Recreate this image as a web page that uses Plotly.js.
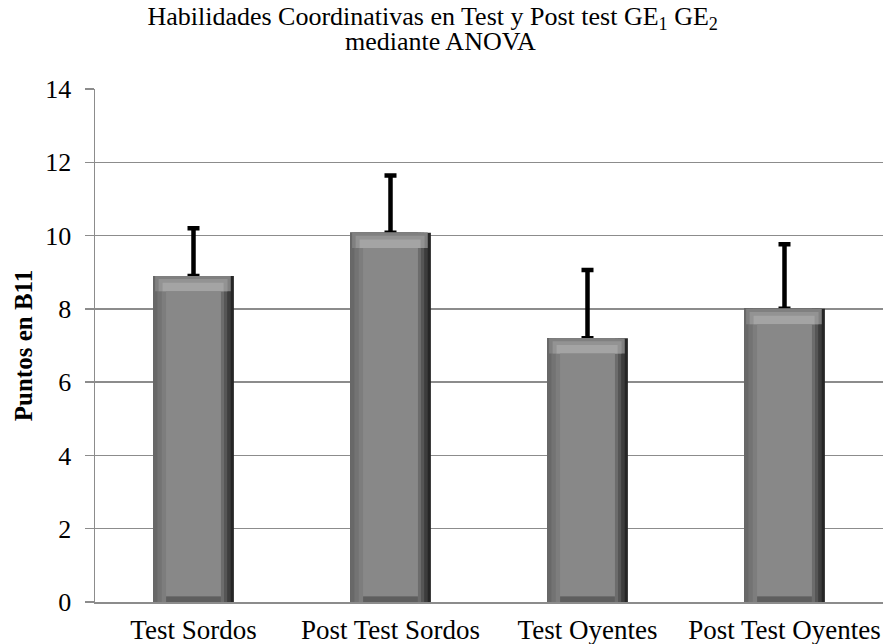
<!DOCTYPE html>
<html>
<head>
<meta charset="utf-8">
<script src="https://cdn.plot.ly/plotly-3.0.1.min.js"></script>
<style>
html,body{margin:0;padding:0;background:#fff;}
#chart{width:883px;height:644px;}
</style>
</head>
<body>
<div id="chart"></div>
<script>
// ---- data ----
const categories = ["Test Sordos", "Post Test Sordos", "Test Oyentes", "Post Test Oyentes"];
const means = [8.9, 10.08, 7.2, 8.0];
const errPlus = [1.3, 1.56, 1.86, 1.76];
const yTicks = [0, 2, 4, 6, 8, 10, 12, 14];

// ---- style constants ----
const BW = 0.41;          // bar width (category units)
const OFF = -BW / 2;
const SX = 0.066;         // side bevel width (x units)
const TY = 0.42;          // top bevel height (y units)
const BY = 0.16;          // bottom bevel height (y units)
const serif = "Liberation Serif, Times New Roman, serif";

function layer(y, base, offset, width, color, extra) {
  return Object.assign({
    type: 'bar', x: categories, y: y, base: base,
    offset: offset, width: width,
    marker: {color: color, line: {width: 0}},
    hoverinfo: 'skip', showlegend: false
  }, extra || {});
}

const zeros = means.map(() => 0);
const topBase = means.map(v => v - TY);
const topH = means.map(() => TY);
const faceH = means.map(v => v - TY - BY);
const faceBase = means.map(() => BY);
const botH = means.map(() => BY);

const traces = [
  // right outer dark strip + error bars
  layer(means, zeros, OFF, BW, '#262626', {
    error_y: {type: 'data', symmetric: false, array: errPlus, arrayminus: zeros,
              color: '#000', thickness: 4.5, width: 6}
  }),
  layer(means, zeros, OFF, BW - 0.016, '#3d3d3d'),
  layer(means, zeros, OFF, BW - 0.034, '#565656'),
  layer(means, zeros, OFF, BW - 0.050, '#6c6c6c'),
  // left bevel
  layer(means, zeros, OFF, BW - SX, '#686868'),
  layer(means, zeros, OFF + 0.022, BW - SX - 0.022, '#737373'),
  layer(means, zeros, OFF + 0.044, BW - SX - 0.044, '#7d7d7d'),
  // bottom bevel
  layer(botH, zeros, OFF + SX, BW - 2 * SX, '#5e5e5e'),
  // top bevel (light gradient)
  layer(topH, topBase, OFF + 0.010, BW - 0.026, '#808080'),
  layer(topH.map(h => h * 0.8), topBase, OFF + 0.028, BW - 0.060, '#939393'),
  layer(topH.map(h => h * 0.55), topBase, OFF + 0.048, BW - 0.100, '#a4a4a4'),
  // face
  layer(faceH, faceBase, OFF + SX, BW - 2 * SX, '#888888')
];

const layout = {
  width: 883, height: 644,
  margin: {l: 95, r: 0, t: 89, b: 42},
  paper_bgcolor: '#ffffff', plot_bgcolor: '#ffffff',
  barmode: 'overlay',
  font: {family: serif, color: '#000'},
  title: {
    text: 'Habilidades Coordinativas en Test y Post test GE<sub>1</sub> GE<sub>2</sub>',
    font: {family: serif, size: 26, color: '#000'},
    x: 0.49, xanchor: 'center', xref: 'container',
    y: 0.99, yanchor: 'top', yref: 'container'
  },
  annotations: [{
    text: 'mediante ANOVA', xref: 'paper', yref: 'paper',
    x: 0.438, y: 1.0, xanchor: 'center', yanchor: 'middle',
    yshift: 48, showarrow: false,
    font: {family: serif, size: 26, color: '#000'}
  }],
  xaxis: {
    type: 'category',
    tickfont: {family: serif, size: 27, color: '#000'},
    showgrid: false, showline: true, linecolor: '#8c8c8c', linewidth: 1.5,
    ticks: '', ticklabelstandoff: 3, zeroline: false, fixedrange: true
  },
  yaxis: {
    range: [0, 14], tickvals: yTicks, ticktext: yTicks.map(String),
    tickfont: {family: serif, size: 26, color: '#000'},
    showgrid: true, gridcolor: '#8c8c8c', gridwidth: 1.4,
    showline: true, linecolor: '#8c8c8c', linewidth: 1.5,
    ticks: 'outside', ticklen: 9, tickcolor: '#8c8c8c', tickwidth: 1.4,
    ticklabelstandoff: 8,
    zeroline: false, fixedrange: true,
    title: {text: '<b>Puntos en B11</b>', font: {family: serif, size: 25, color: '#000'}, standoff: 5}
  }
};

Plotly.newPlot('chart', traces, layout, {displayModeBar: false, staticPlot: true});
</script>
</body>
</html>
